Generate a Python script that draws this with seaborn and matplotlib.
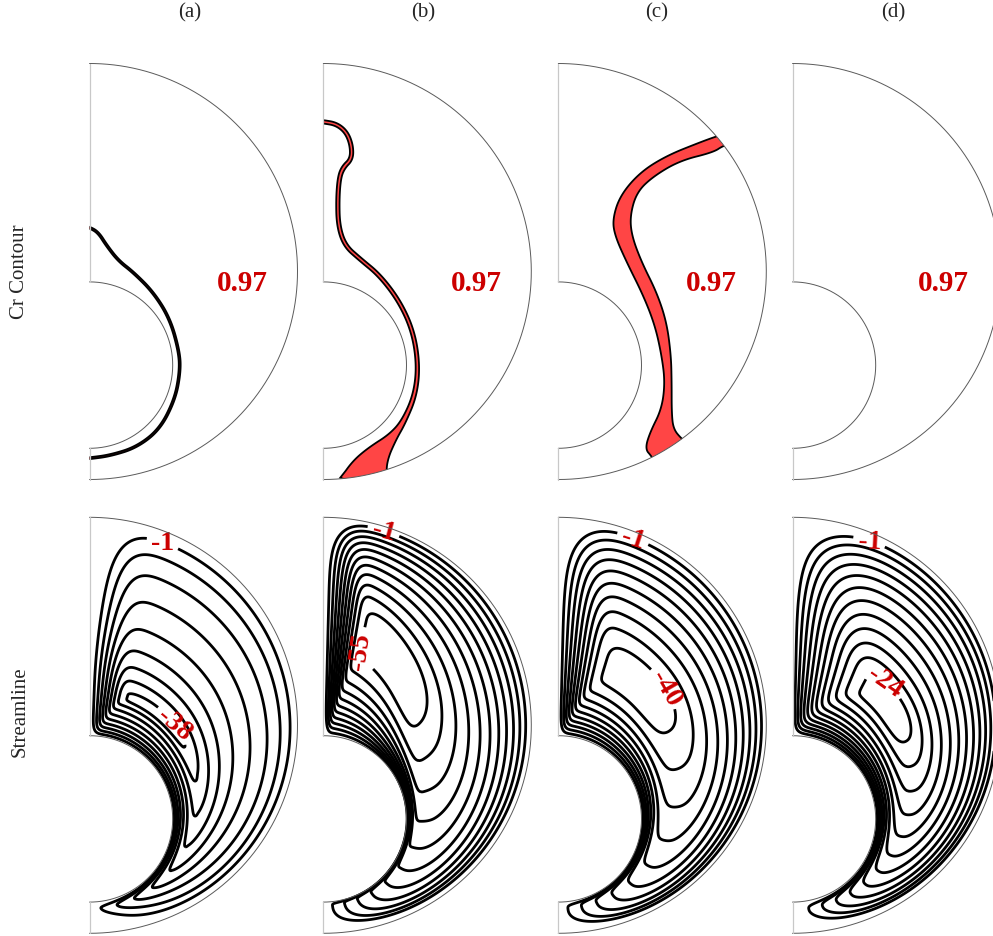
import numpy as np
import matplotlib
matplotlib.use("Agg")
import matplotlib.pyplot as plt
import seaborn as sns
from matplotlib.path import Path
from matplotlib.patches import PathPatch

# ------------------------------------------------------------------ data
panel_tags = ["(a)", "(b)", "(c)", "(d)"]
row_titles = ["Cr Contour", "Streamline"]
cr_label_text = "0.97"
cr_label_x = [0.735, 0.735, 0.735, 0.725]
cr_label_y = [-0.055, -0.055, -0.055, -0.055]

# geometry of the eccentric annulus (outer radius = 1)
inner_radius = 0.40
inner_center_y = -0.45

# Cr = 0.97 band, panel (a): centreline + half width
band_a_x = [-0.03, 0.0, 0.042, 0.083, 0.139, 0.211, 0.307, 0.387, 0.432, 0.435, 0.411, 0.339, 0.227, 0.099, 0.0, -0.03]
band_a_y = [0.214, 0.212, 0.188, 0.124, 0.052, -0.004, -0.100, -0.228, -0.389, -0.485, -0.613, -0.757, -0.845, -0.885, -0.898, -0.899]
band_a_w = [0.0045] * 16

# panel (b): centreline + half width
band_b_x = [-0.03, 0.0, 0.064, 0.112, 0.136, 0.136, 0.096, 0.077, 0.069, 0.072, 0.104, 0.176, 0.273, 0.369, 0.433, 0.457, 0.441, 0.385, 0.330, 0.262, 0.222, 0.195]
band_b_y = [0.722, 0.720, 0.709, 0.669, 0.605, 0.541, 0.501, 0.453, 0.349, 0.220, 0.124, 0.060, -0.020, -0.148, -0.292, -0.453, -0.597, -0.725, -0.800, -0.880, -0.950, -1.030]
band_b_w = [0.008, 0.008, 0.008, 0.008, 0.008, 0.008, 0.009, 0.008, 0.008, 0.008, 0.008, 0.008, 0.008, 0.008, 0.008, 0.008, 0.009, 0.011, 0.022, 0.055, 0.090, 0.120]

# panel (c): explicit edges
band_c_left_x = [0.80, 0.761, 0.681, 0.521, 0.393, 0.297, 0.261, 0.272, 0.329, 0.409, 0.465, 0.497, 0.513, 0.497, 0.441, 0.417, 0.449, 0.47]
band_c_left_y = [0.66, 0.650, 0.621, 0.557, 0.477, 0.365, 0.252, 0.172, 0.044, -0.116, -0.260, -0.405, -0.533, -0.661, -0.773, -0.853, -0.889, -0.93]
band_c_right_x = [0.85, 0.793, 0.745, 0.585, 0.456, 0.377, 0.345, 0.353, 0.401, 0.473, 0.521, 0.542, 0.545, 0.545, 0.553, 0.593, 0.63]
band_c_right_y = [0.62, 0.605, 0.573, 0.533, 0.457, 0.381, 0.268, 0.172, 0.044, -0.100, -0.244, -0.405, -0.533, -0.677, -0.757, -0.805, -0.83]

# streamline panels
psi_peak_label = [-38, -55, -40, -24]      # labelled innermost level
psi_outer_level = -1
n_levels = [9, 11, 10, 12]
peak_label_x = [0.40, 0.19, 0.481, 0.445]
peak_label_y = [0.00, 0.36, 0.159, 0.214]
peak_label_rot = [-40, 82, -60, -35]
outer_label_x = [0.347, 0.288, 0.361, 0.373]
outer_label_y = [0.864, 0.928, 0.904, 0.896]
outer_label_rot = [0, -15, -18, -3]

# read-off extents in gap coordinates (eta: inner wall 0 -> outer wall 1,
# t: lower axis 0 -> upper axis 1); centre of the innermost loop
vortex_eta = [0.215, 0.42, 0.37, 0.35]
vortex_t = [0.805, 0.8405, 0.8095, 0.7685]
vortex_shear = [0.0, 1.52, 0.2, 0.13]
# relative reach of the innermost loop towards: inner wall, outer wall, lower axis, upper axis
core_in = [0.116, 0.30, 0.28, 0.22]
core_out = [0.032, 0.16, 0.15, 0.11]
core_low = [0.123, 0.109, 0.119, 0.101]
core_up = [0.51, 0.574, 0.507, 0.335]
# relative reach of the -1 streamline towards the same four walls
edge_in = [0.953, 0.976, 0.97, 0.97]
edge_out = [0.936, 0.957, 0.952, 0.95]
edge_low = [0.95, 0.96, 0.958, 0.926]
edge_up = [0.94, 0.95, 0.958, 0.97]

# ------------------------------------------------------------------ style
sns.set_theme(style="white")
plt.rcParams["font.family"] = ["Liberation Serif", "DejaVu Serif"]
RED_TXT = "#cc0000"
RED_FILL = "#ff4545"

W, H = 993, 937
fig = plt.figure(figsize=(W / 100, H / 100), dpi=100)

panel_x0 = [89.5, 323.3, 558.3, 792.5]
row_yc = [272.5, 726.3]
SCALE = 208.0
pad = 0.04


def make_axes(col, row):
    x0 = panel_x0[col]
    yc = row_yc[row]
    left = (x0 - pad * SCALE) / W
    width = (1 + 2 * pad) * SCALE / W
    bottom = (H - (yc + (1 + pad) * SCALE)) / H
    height = (2 + 2 * pad) * SCALE / H
    ax = fig.add_axes([left, bottom, width, height])
    ax.set_xlim(-pad, 1 + pad)
    ax.set_ylim(-1 - pad, 1 + pad)
    ax.set_aspect("equal")
    ax.axis("off")
    return ax


th_o = np.linspace(-np.pi / 2, np.pi / 2, 400)
th_i = np.linspace(np.pi / 2, -np.pi / 2, 300)
outer_x = np.cos(th_o)
outer_y = np.sin(th_o)
inner_x = inner_radius * np.cos(th_i)
inner_y = inner_center_y + inner_radius * np.sin(th_i)


def domain_path():
    xs = np.concatenate([outer_x, [0.0], inner_x, [0.0]])
    ys = np.concatenate([outer_y, [inner_center_y + inner_radius], inner_y, [-1.0]])
    return Path(np.column_stack([xs, ys]), closed=False)


def draw_domain(ax):
    sns.lineplot(x=outer_x, y=outer_y, sort=False, estimator=None, ax=ax,
                 color="#5a5a5a", linewidth=0.7, zorder=5)
    sns.lineplot(x=inner_x, y=inner_y, sort=False, estimator=None, ax=ax,
                 color="#5a5a5a", linewidth=0.7, zorder=5)
    ax.plot([0, 0], [inner_center_y + inner_radius, 1], color="#c8c8c8", lw=0.9, zorder=5)
    ax.plot([0, 0], [-1, inner_center_y - inner_radius], color="#c8c8c8", lw=0.9, zorder=5)


def clip_patch(ax):
    patch = PathPatch(domain_path(), transform=ax.transData, facecolor="none", edgecolor="none")
    ax.add_patch(patch)
    return patch


def chaikin(xs, ys, n_iter=4):
    p = np.column_stack([np.asarray(xs, float), np.asarray(ys, float)])
    for _ in range(n_iter):
        q = 0.75 * p[:-1] + 0.25 * p[1:]
        r = 0.25 * p[:-1] + 0.75 * p[1:]
        mid = np.empty((2 * len(q), 2))
        mid[0::2] = q
        mid[1::2] = r
        p = np.vstack([p[:1], mid, p[-1:]])
    return p[:, 0], p[:, 1]


def band_from_centreline(xs, ys, ws):
    xs, ys = np.asarray(xs, float), np.asarray(ys, float)
    ws = np.asarray(ws, float)
    _, ws_s = chaikin(np.arange(len(ws)), ws)
    xs, ys = chaikin(xs, ys)
    dx = np.gradient(xs)
    dy = np.gradient(ys)
    nrm = np.hypot(dx, dy)
    nx, ny = dy / nrm, -dx / nrm
    lx, ly = xs - ws_s * nx, ys - ws_s * ny
    rx, ry = xs + ws_s * nx, ys + ws_s * ny
    return np.concatenate([lx, rx[::-1]]), np.concatenate([ly, ry[::-1]])


def band_from_edges(lxs, lys, rxs, rys):
    lx, ly = chaikin(lxs, lys)
    rx, ry = chaikin(rxs, rys)
    return np.concatenate([lx, rx[::-1]]), np.concatenate([ly, ry[::-1]])


def draw_band(ax, px, py):
    patch = clip_patch(ax)
    polys = ax.fill(px, py, facecolor=RED_FILL, edgecolor="black", linewidth=1.3, zorder=3)
    for p in polys:
        p.set_clip_path(patch)


# ------------------------------------------------------------------ top row
bands = [
    band_from_centreline(band_a_x, band_a_y, band_a_w),
    band_from_centreline(band_b_x, band_b_y, band_b_w),
    band_from_edges(band_c_left_x, band_c_left_y, band_c_right_x, band_c_right_y),
    None,
]
for col in range(4):
    ax = make_axes(col, 0)
    draw_domain(ax)
    if bands[col] is not None:
        draw_band(ax, *bands[col])
    ax.text(cr_label_x[col], cr_label_y[col], cr_label_text, color=RED_TXT,
            fontsize=21, fontweight="bold", ha="center", va="center", zorder=6)

# ------------------------------------------------------------------ bottom row
gx = np.linspace(0.0, 1.0, 500)
gy = np.linspace(-1.0, 1.0, 1000)
X, Y = np.meshgrid(gx, gy)
RHO = np.hypot(X, Y - inner_center_y)
TH = np.arctan2(Y - inner_center_y, X)
S = np.sin(TH)
RHO_O = -inner_center_y * S + np.sqrt(inner_center_y ** 2 * S ** 2 + 1 - inner_center_y ** 2)
ETA = np.clip((RHO - inner_radius) / (RHO_O - inner_radius), 0, 1)
T = np.clip((TH + np.pi / 2) / np.pi, 0, 1)
inside = (X ** 2 + Y ** 2 <= 1) & (RHO >= inner_radius) & (X >= 0)

D_IN, D_OUT = 0.1, 0.9


def pchip(xk, yk, x):
    """monotone cubic interpolation (Fritsch-Carlson)"""
    xk = np.asarray(xk, float)
    yk = np.asarray(yk, float)
    h = np.diff(xk)
    delta = np.diff(yk) / h
    n = len(xk)
    d = np.zeros(n)
    d[0], d[-1] = delta[0], delta[-1]
    for k in range(1, n - 1):
        if delta[k - 1] * delta[k] > 0:
            w1 = 2 * h[k] + h[k - 1]
            w2 = h[k] + 2 * h[k - 1]
            d[k] = (w1 + w2) / (w1 / delta[k - 1] + w2 / delta[k])
    x = np.clip(x, xk[0], xk[-1])
    i = np.clip(np.searchsorted(xk, x) - 1, 0, n - 2)
    hh = h[i]
    s = (x - xk[i]) / hh
    h00 = 2 * s ** 3 - 3 * s ** 2 + 1
    h10 = s ** 3 - 2 * s ** 2 + s
    h01 = -2 * s ** 3 + 3 * s ** 2
    h11 = s ** 3 - s ** 2
    return h00 * yk[i] + h10 * hh * d[i] + h01 * yk[i + 1] + h11 * hh * d[i + 1]


def reach_map(s, s_core, s_edge):
    return pchip([0.0, s_core, s_edge, 1.0, 1.5], [0.0, D_IN, D_OUT, 1.0, 1.5], s)


for col in range(4):
    ax = make_axes(col, 1)
    e0, t0 = vortex_eta[col], vortex_t[col]
    A = 0.3
    eta_c = np.clip(e0 + A * np.tanh(vortex_shear[col] * (T - t0) / A), 0.08, 0.9)
    de = ETA - eta_c
    lower_e = de < 0
    s_e = np.where(lower_e, -de / eta_c, de / (1 - eta_c))
    u = np.where(lower_e,
                 reach_map(s_e, core_in[col], edge_in[col]),
                 reach_map(s_e, core_out[col], edge_out[col]))
    dt = T - t0
    lower_t = dt < 0
    s_t = np.where(lower_t, -dt / t0, dt / (1 - t0))
    v = np.where(lower_t,
                 reach_map(s_t, core_low[col], edge_low[col]),
                 reach_map(s_t, core_up[col], edge_up[col]))
    m = np.where(lower_e & ~lower_t, 7.0, np.where(lower_t, 2.3, 3.0))
    D = (u ** m + v ** m) ** (1 / m)
    psi = psi_outer_level + (psi_peak_label[col] - psi_outer_level) * (D_OUT - D) / (D_OUT - D_IN)
    psi = np.where(inside, psi, np.nan)
    levels = np.linspace(psi_peak_label[col], psi_outer_level, n_levels[col])
    ax.contour(X, Y, psi, levels=levels[1:-1], colors="black", linewidths=2.0,
               linestyles="solid", zorder=3)
    label_specs = [(levels[0], peak_label_x[col], peak_label_y[col], peak_label_rot[col]),
                   (levels[-1], outer_label_x[col], outer_label_y[col], outer_label_rot[col])]
    with plt.rc_context({"font.weight": "bold", "font.family": ["Liberation Serif"]}):
        for lev, lx, ly, rot in label_specs:
            cs1 = ax.contour(X, Y, psi, levels=[lev], colors="black", linewidths=2.0,
                             linestyles="solid", zorder=3)
            lbls = ax.clabel(cs1, inline=True, fontsize=20, colors=RED_TXT,
                             fmt=lambda v: f"{v:.0f}", manual=[(lx, ly)])
            for t in lbls:
                t.set_fontweight("bold")
                t.set_rotation(rot)
    draw_domain(ax)

# ------------------------------------------------------------------ titles
tag_x = [190, 423, 657, 893]
for col in range(4):
    fig.text(tag_x[col] / W, 1 - 13 / H, panel_tags[col], ha="center", va="center", fontsize=15)
fig.text(20 / W, 1 - 272 / H, row_titles[0], rotation=90, ha="center", va="center", fontsize=15)
fig.text(20 / W, 1 - 712 / H, row_titles[1], rotation=90, ha="center", va="center", fontsize=15)

fig.savefig("out.png", dpi=100)
